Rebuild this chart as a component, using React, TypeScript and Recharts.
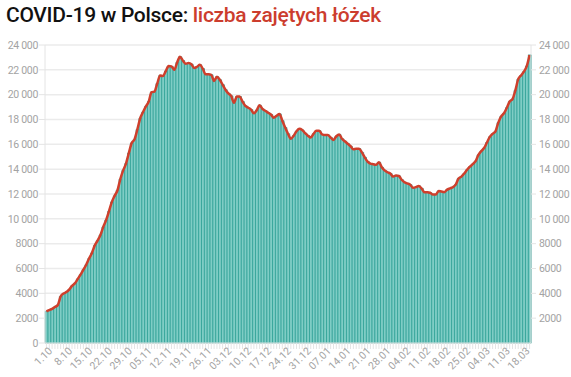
// Wykres: liczba zajętych łóżek covidowych w Polsce (1.10 – 20.03)
import { ComposedChart, Bar, Line, XAxis, YAxis, CartesianGrid } from "recharts";

// etykiety osi X (co 7 dni)
const TICK_LABELS = [
  "1.10", "8.10", "15.10", "22.10", "29.10", "05.11", "12.11", "19.11", "26.11",
  "03.12", "10.12", "17.12", "24.12", "31.12", "07.01", "14.01", "21.01", "28.01",
  "04.02", "11.02", "18.02", "25.02", "04.03", "11.03", "18.03",
];

// dni miesięcy w zakresie wykresu
const MIESIACE = [
  { m: "10", dni: 31 },
  { m: "11", dni: 30 },
  { m: "12", dni: 31 },
  { m: "01", dni: 31 },
  { m: "02", dni: 28 },
  { m: "03", dni: 20 },
];

// liczba zajętych łóżek, dzień po dniu
const ZAJETE = [
  2550, 2650, 2750, 2900, 3050, 3750, 3980, 4100, 4300, 4600,
  4800, 5150, 5500, 5900, 6300, 6800, 7250, 7850, 8250, 8700,
  9350, 9900, 10600, 11350, 11850, 12300, 13200, 13900, 14450, 15300,
  16100, 16400, 17200, 18100, 18600, 19050, 19450, 20200, 20250, 20900,
  21550, 21500, 21900, 22300, 22280, 22000, 22600, 23050, 22750, 22500,
  22550, 22450, 22150, 22250, 22400, 22100, 21650, 21650, 21600, 21100,
  21450, 21200, 20800, 20400, 20100, 19900, 19350, 19850, 19850, 19450,
  19100, 18950, 18800, 18500, 18750, 19150, 18850, 18700, 18550, 18400,
  18150, 18300, 18450, 17900, 17350, 16850, 16450, 16700, 17050, 17250,
  17150, 16900, 16700, 16550, 16850, 17100, 17100, 16800, 16750, 16750,
  16550, 16350, 16650, 16800, 16450, 16250, 16050, 15850, 15600, 15650,
  15650, 15350, 14950, 14600, 14450, 14400, 14350, 14550, 14150, 13900,
  13750, 13650, 13400, 13500, 13450, 13150, 12950, 12850, 12750, 12500,
  12550, 12650, 12450, 12150, 12150, 12100, 11950, 11950, 12250, 12200,
  12150, 12350, 12450, 12550, 12750, 13250, 13400, 13650, 13950, 14200,
  14400, 14650, 15150, 15450, 15700, 16150, 16600, 16850, 17050, 17750,
  18250, 18500, 18950, 19450, 19650, 20350, 21250, 21550, 21850, 22300,
  23200,
];

const LEWE_TICKI = [0, 2000, 4000, 6000, 8000, 10000, 12000, 14000, 16000, 18000, 20000, 22000, 24000];
const PRAWE_TICKI = [2000, 4000, 6000, 8000, 10000, 12000, 14000, 16000, 18000, 20000, 22000, 24000];

const dni: string[] = [];
MIESIACE.forEach(({ m, dni: n }) => {
  for (let d = 1; d <= n; d++) dni.push(`${d}.${m}`);
});

const dane = dni.map((dzien, i) => ({ dzien, zajete: ZAJETE[i] }));

const FONT = "Roboto, 'Noto Sans', sans-serif";
const SZARY = "#a3a3a3";

const formatLiczby = (v: number) =>
  v >= 10000 ? String(v).replace(/\B(?=(\d{3})+(?!\d))/g, " ") : String(v);

const XTick = (props: any) => {
  const { x, y, payload } = props;
  const idx = props.index ?? payload.index;
  if (idx % 7 !== 0) return null;
  const label = TICK_LABELS[idx / 7];
  return (
    <g transform={`translate(${x + 4},${y - 2}) rotate(-45)`}>
      <text x={0} y={0} dy="0.35em" textAnchor="end" fill={SZARY} fontSize={10.5} fontFamily={FONT}>
        {label}
      </text>
    </g>
  );
};

const YTick = (props: any) => {
  const { x, y, payload, textAnchor } = props;
  return (
    <text
      x={x}
      y={y}
      dy="0.36em"
      textAnchor={textAnchor}
      fill={SZARY}
      fontSize={10.5}
      letterSpacing={-0.3}
      fontFamily={FONT}
    >
      {formatLiczby(payload.value)}
    </text>
  );
};

export default function App() {
  return (
    <div style={{ position: "absolute", left: 0, top: 0, width: 571, height: 377, background: "#fff" }}>
      <div
        style={{
          position: "absolute",
          left: 6,
          top: 3,
          fontFamily: FONT,
          fontWeight: 500,
          fontSize: 21,
          whiteSpace: "nowrap",
          letterSpacing: -0.3,
        }}
      >
        <span style={{ color: "#111" }}>COVID-19 w Polsce: </span>
        <span style={{ color: "#cc3d2e" }}>liczba zajętych łóżek</span>
      </div>
      <ComposedChart
        width={571}
        height={377}
        data={dane}
        margin={{ top: 45, right: 0, left: 0, bottom: 0 }}
        barCategoryGap="6%"
      >
        <CartesianGrid yAxisId="l" vertical={false} stroke="#ebebeb" strokeWidth={1.5} />
        <XAxis
          dataKey="dzien"
          interval={0}
          height={34}
          tick={<XTick />}
          tickLine={{ stroke: "#e4e4e4" }}
          tickSize={6}
          axisLine={{ stroke: "#ececec" }}
        />
        <YAxis
          yAxisId="l"
          orientation="left"
          width={45}
          domain={[0, 24000]}
          ticks={LEWE_TICKI}
          tick={<YTick />}
          tickLine={{ stroke: "#e4e4e4" }}
          axisLine={{ stroke: "#e4e4e4" }}
          tickSize={6}
          tickMargin={1}
        />
        <YAxis
          yAxisId="r"
          orientation="right"
          width={40}
          domain={[0, 24000]}
          ticks={PRAWE_TICKI}
          tick={<YTick />}
          tickLine={{ stroke: "#e4e4e4" }}
          axisLine={{ stroke: "#e4e4e4" }}
          tickSize={5}
          tickMargin={3}
        />
        <Bar
          yAxisId="l"
          dataKey="zajete"
          fill="#7fcdc5"
          stroke="#2fa096"
          strokeWidth={0.8}
          isAnimationActive={false}
        />
        <Line
          yAxisId="r"
          dataKey="zajete"
          type="monotone"
          stroke="#cf3f2c"
          strokeWidth={2.5}
          dot={false}
          activeDot={false}
          isAnimationActive={false}
        />
      </ComposedChart>
    </div>
  );
}
